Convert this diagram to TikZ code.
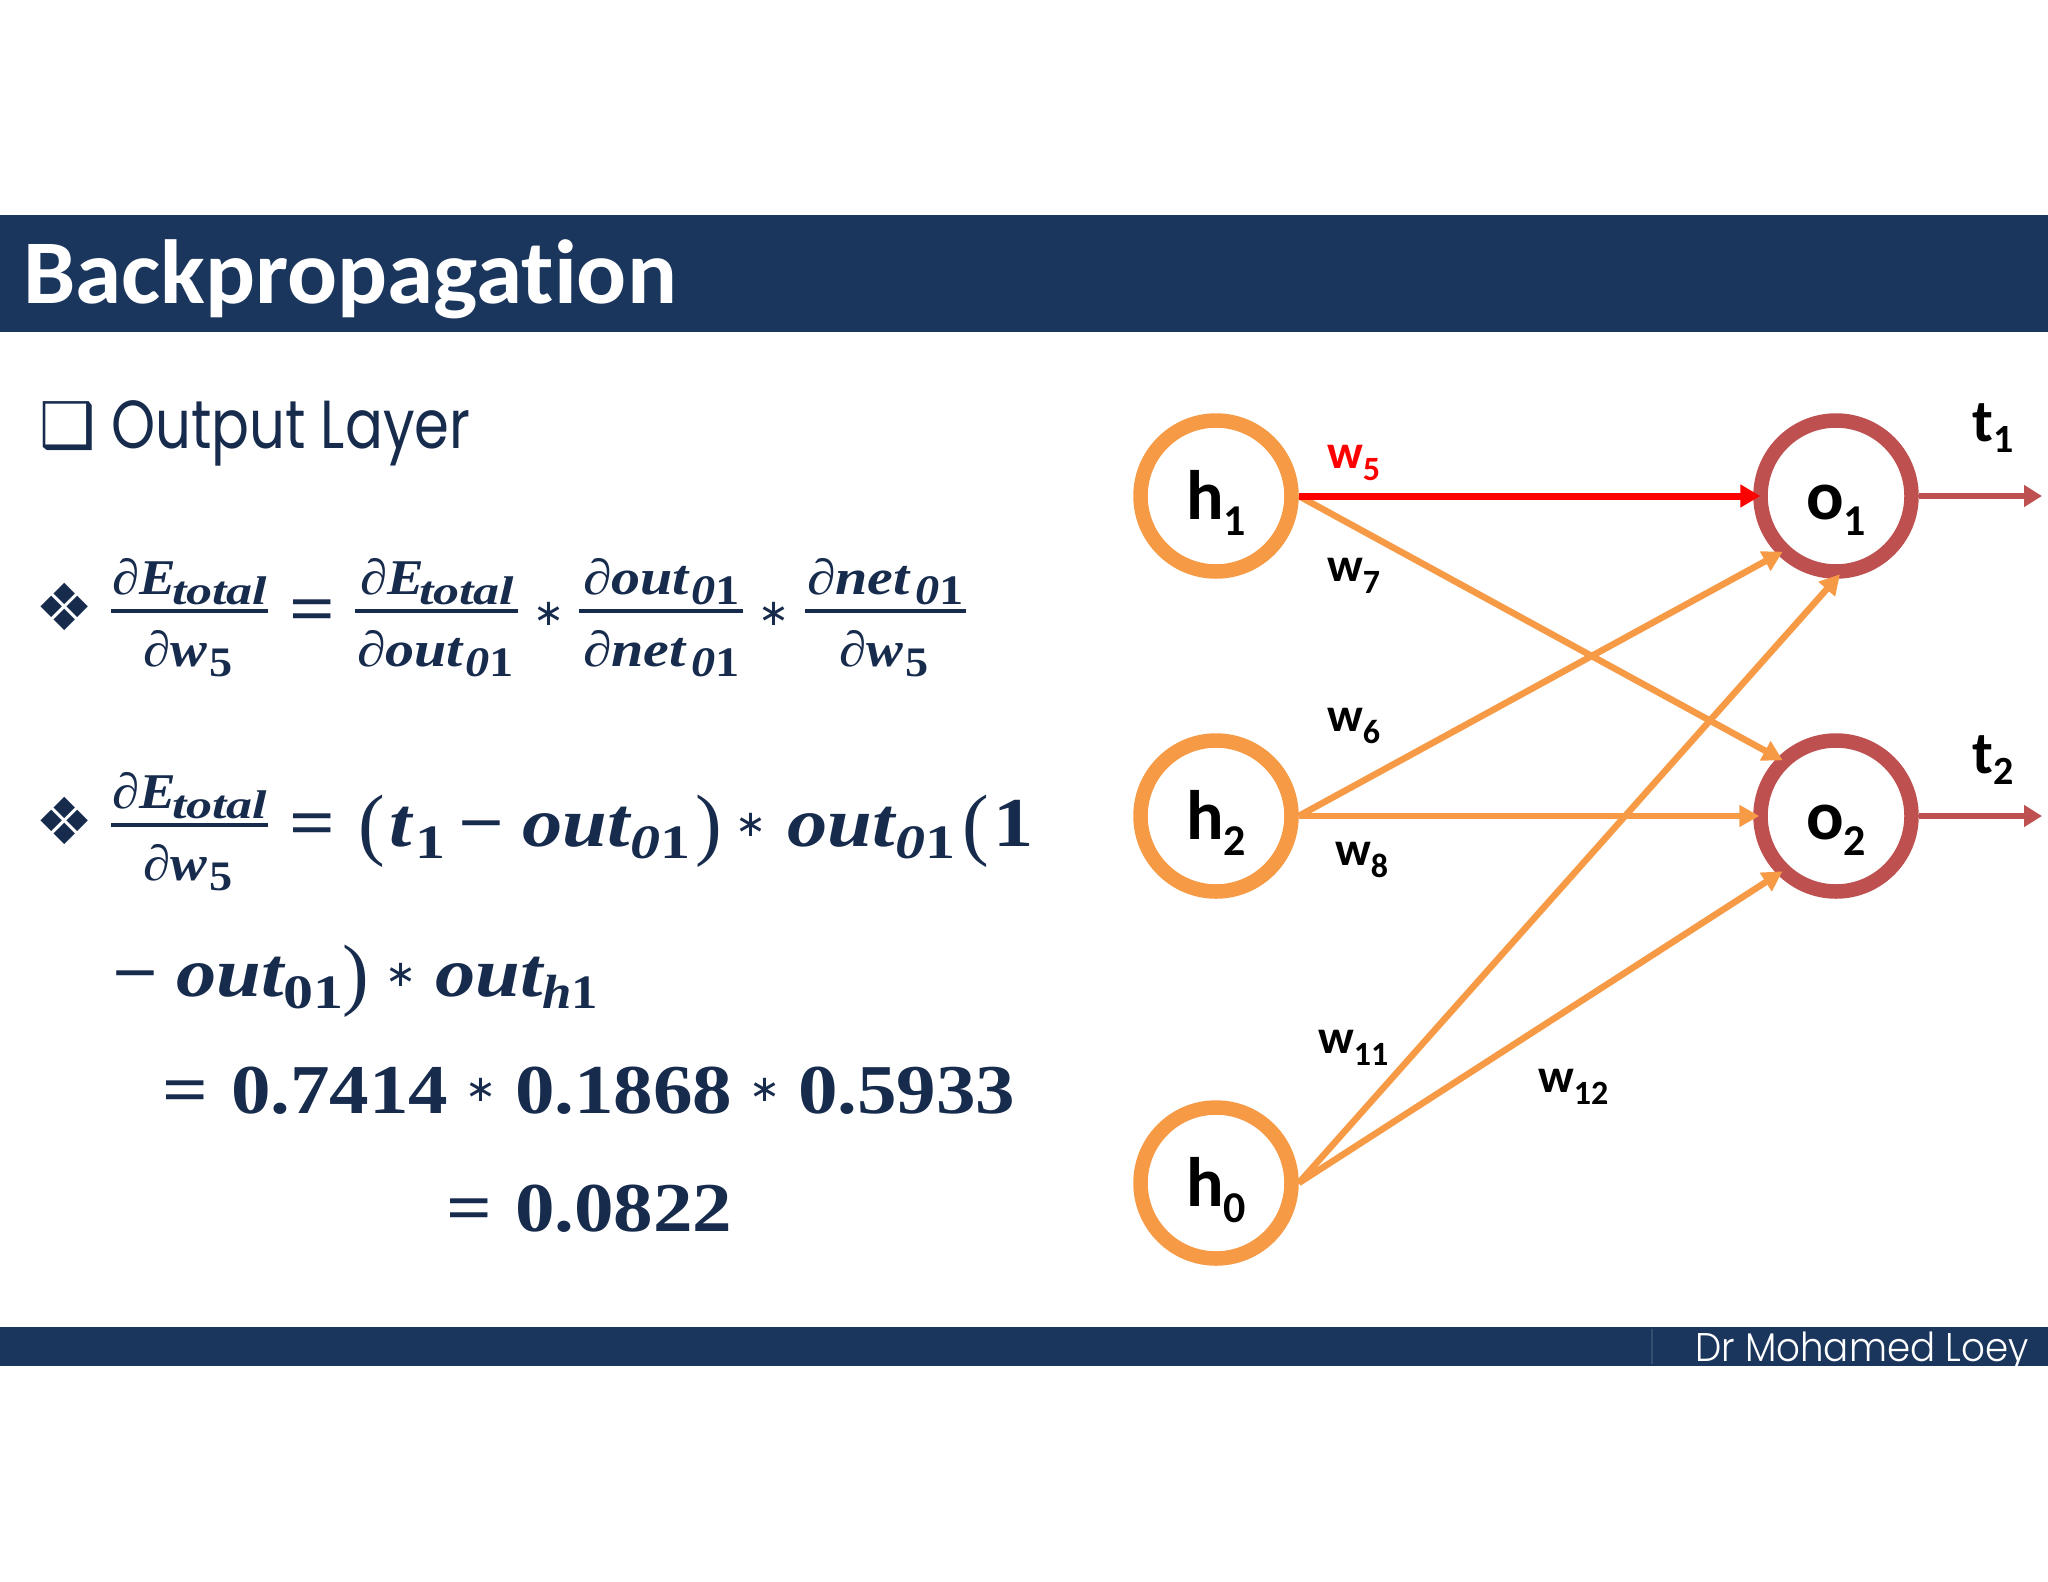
\documentclass[tikz,border=0pt]{standalone}
\usepackage{fontspec}
\usepackage{graphicx}
\usetikzlibrary{arrows.meta}
\setmainfont{Liberation Serif}
\newfontfamily\calb{Carlito}[BoldFont=* Bold]
\newfontfamily\thinf{Poppins Light}
\newfontfamily\regf{Poppins}
\newfontfamily\symf{DejaVu Sans}
\definecolor{navy}{HTML}{1B365D}
\definecolor{ink}{HTML}{172B4D}
\definecolor{orng}{HTML}{F79A46}
\definecolor{brick}{HTML}{BE5150}
\newcounter{fragn}
% fragment of a formula: x, baseline y, size, x-stretch, text
\newcommand\frag[5]{\stepcounter{fragn}\node[formula] (frag\arabic{fragn}) at (#1,#2) {\fontsize{#3}{#3}\selectfont\scalebox{#4}[1]{#5}};}
\newcommand\mstar[2]{\stepcounter{fragn}\node[inner sep=0pt,text=ink] (frag\arabic{fragn}) at (#1,#2) {\symf\fontsize{37}{37}\selectfont ∗};}
\newcommand\mparen[3]{\stepcounter{fragn}\node[formula] (frag\arabic{fragn}) at (#1,#2) {\fontsize{80}{80}\selectfont #3};}
\newcommand\mI[1]{{\bfseries\itshape #1}}
\newcommand\mB[1]{{\bfseries #1}}
\newcommand\lab[2]{{\calb\bfseries #1}\raisebox{-0.27em}{\fontsize{34}{34}\selectfont\calb\bfseries #2}}
\newcommand\nlab[2]{\raisebox{-23.5pt}[0pt][0pt]{\makebox[0pt]{\calb\bfseries\fontsize{70}{70}\selectfont #1\raisebox{-16pt}{\fontsize{44}{44}\selectfont #2}}}}
\tikzset{
  formula/.style={anchor=base west,inner sep=0pt,outer sep=0pt,text=ink},
  barline/.style={draw=ink,line width=4pt},
  neuronh/.style={circle,draw=orng,line width=14.5pt,minimum size=151pt,inner sep=0pt,fill=white},
  neurono/.style={circle,draw=brick,line width=14.5pt,minimum size=151pt,inner sep=0pt,fill=white},
  wlab/.style={anchor=base west,inner sep=0pt,font=\calb\bfseries\fontsize{48}{48}\selectfont},
  edge/.style={draw=orng,line width=6.5pt,shorten >=-6pt,-{Triangle[length=20pt,width=21pt]}},
  hot/.style={draw=red,line width=7pt,shorten >=-7pt,-{Triangle[length=20pt,width=22pt]}},
  outedge/.style={draw=brick,line width=6.5pt,-{Triangle[length=18pt,width=21pt]}},
}
\begin{document}
\begin{tikzpicture}[x=1pt,y=-1pt]
\useasboundingbox (0,0) rectangle (2048,1582);
\fill[navy] (0,215) rectangle (2048,332);
\fill[navy] (0,1327) rectangle (2048,1366);
\draw[navy!88!white,line width=1.5pt] (1652,1329) -- (1652,1364);
\node[anchor=base west,inner sep=0pt,text=white] (title) at (23,303) {\calb\bfseries\fontsize{91}{91}\selectfont\scalebox{1.025}[1]{Backpropagat\kern0pt ion}};
\node[anchor=base west,inner sep=0pt,text=ink] (bsq) at (39,447) {\symf\fontsize{63}{63}\selectfont ❑};
\node[anchor=base west,inner sep=0pt,text=ink] (head) at (111,448) {\regf\fontsize{68}{68}\selectfont\scalebox{0.825}[1]{Output Layer}};
\node[anchor=base west,inner sep=0pt,text=white] (foot) at (1695,1361) {\thinf\fontsize{40}{40}\selectfont\scalebox{0.93}[1]{Dr Mohamed Loey}};
% bullets
\node[anchor=center,inner sep=0pt,text=ink] (bd1) at (65,607) {\symf\fontsize{65}{65}\selectfont ❖};
\node[anchor=center,inner sep=0pt,text=ink] (bd2) at (65,821) {\symf\fontsize{65}{65}\selectfont ❖};
% equation 1
\frag{112}{594}{50}{1.1}{\mI{∂E}}
\frag{172}{604}{40}{1.3}{\mI{total}}
\draw[barline] (111,611) -- (268,611);
\frag{143}{666}{50}{1.1}{\mI{∂w}}
\frag{209}{676}{42}{1.1}{\mB{5}}
\frag{289}{632}{70}{1.15}{\mB{=}}
\frag{360}{594}{50}{1.1}{\mI{∂E}}
\frag{419}{604}{40}{1.3}{\mI{total}}
\draw[barline] (355,611) -- (518,611);
\frag{357}{666}{50}{1.16}{\mI{∂out}}
\frag{465}{676}{42}{1.15}{\mI{0}\mB{1}}
\mstar{549}{614}
\frag{583}{594}{50}{1.16}{\mI{∂out}}
\frag{691}{604}{42}{1.15}{\mI{0}\mB{1}}
\draw[barline] (579,611) -- (743,611);
\frag{583}{666}{50}{1.16}{\mI{∂net}}
\frag{691}{676}{42}{1.15}{\mI{0}\mB{1}}
\mstar{774}{614}
\frag{807}{594}{50}{1.16}{\mI{∂net}}
\frag{915}{604}{42}{1.15}{\mI{0}\mB{1}}
\draw[barline] (805,611) -- (966,611);
\frag{839}{666}{50}{1.1}{\mI{∂w}}
\frag{905}{676}{42}{1.1}{\mB{5}}
% equation 2
\frag{112}{808}{50}{1.1}{\mI{∂E}}
\frag{172}{818}{40}{1.3}{\mI{total}}
\draw[barline] (111,825) -- (268,825);
\frag{143}{880}{50}{1.1}{\mI{∂w}}
\frag{209}{890}{42}{1.1}{\mB{5}}
\frag{289}{846}{70}{1.15}{\mB{=}}
\mparen{358}{850}{(}
\frag{389}{846}{70}{1.15}{\mI{t}}
\frag{415}{858}{48}{1.25}{\mB{1}}
\frag{458}{846}{70}{1.15}{\mB{−}}
\frag{522}{846}{70}{1.15}{\mI{out}}
\frag{630}{858}{48}{1.25}{\mI{0}\mB{1}}
\mparen{695}{850}{)}
\mstar{751}{825}
\frag{787}{846}{70}{1.15}{\mI{out}}
\frag{895}{858}{48}{1.25}{\mI{0}\mB{1}}
\mparen{962}{850}{(}
\frag{993}{846}{70}{1.15}{\mB{1}}
% line 3
\frag{112}{996}{70}{1.15}{\mB{−}}
\frag{176}{996}{70}{1.15}{\mI{out}}
\frag{283}{1008}{48}{1.25}{\mB{01}}
\mparen{342}{1000}{)}
\mstar{401}{975}
\frag{435}{996}{70}{1.15}{\mI{out}}
\frag{542}{1008}{48}{1.1}{\mI{h}\mB{1}}
% line 4
\frag{162}{1113}{70}{1.15}{\mB{=}}
\frag{231}{1113}{70}{1.13}{\mB{0.7414}}
\mstar{481}{1090}
\frag{515}{1113}{70}{1.13}{\mB{0.1868}}
\mstar{765}{1090}
\frag{798}{1113}{70}{1.13}{\mB{0.5933}}
% line 5
\frag{446}{1231}{70}{1.15}{\mB{=}}
\frag{515}{1231}{70}{1.13}{\mB{0.0822}}
% network
\coordinate (e1) at (2042,496);
\coordinate (e2) at (2042,816);
\node[neuronh] (h1) at (1216,496) {\nlab{h}{1}};
\node[neuronh] (h2) at (1216,816) {\nlab{h}{2}};
\node[neuronh] (h0) at (1216,1183) {\nlab{h}{0}};
\node[neurono] (o1) at (1836,496) {\nlab{o}{1}};
\node[neurono] (o2) at (1836,816) {\nlab{o}{2}};
\draw[edge] (h1.east) -- (o2.135);
\draw[edge] (h2.east) -- (o1.225);
\draw[edge] (h2.east) -- (o2.west);
\draw[edge] (h0.east) -- (o1.south);
\draw[edge] (h0.east) -- (o2.225);
\draw[hot] (h1.east) -- (o1.west);
\draw[outedge] (o1.east) -- (e1);
\draw[outedge] (o2.east) -- (e2);
\node[wlab,text=red] (w5) at (1327,468) {\lab{w}{5}};
\node[wlab] (w7) at (1327,581) {\lab{w}{7}};
\node[wlab] (w6) at (1327,731) {\lab{w}{6}};
\node[wlab] (w8) at (1335,865) {\lab{w}{8}};
\node[wlab] (w11) at (1318,1053) {\lab{w}{11}};
\node[wlab] (w12) at (1538,1092) {\lab{w}{12}};
\node[wlab] (t1) at (1972,441) {\fontsize{60}{60}\selectfont t\raisebox{-11pt}{\fontsize{40}{40}\selectfont 1}};
\node[wlab] (t2) at (1972,773) {\fontsize{60}{60}\selectfont t\raisebox{-11pt}{\fontsize{40}{40}\selectfont 2}};
\end{tikzpicture}
\end{document}
